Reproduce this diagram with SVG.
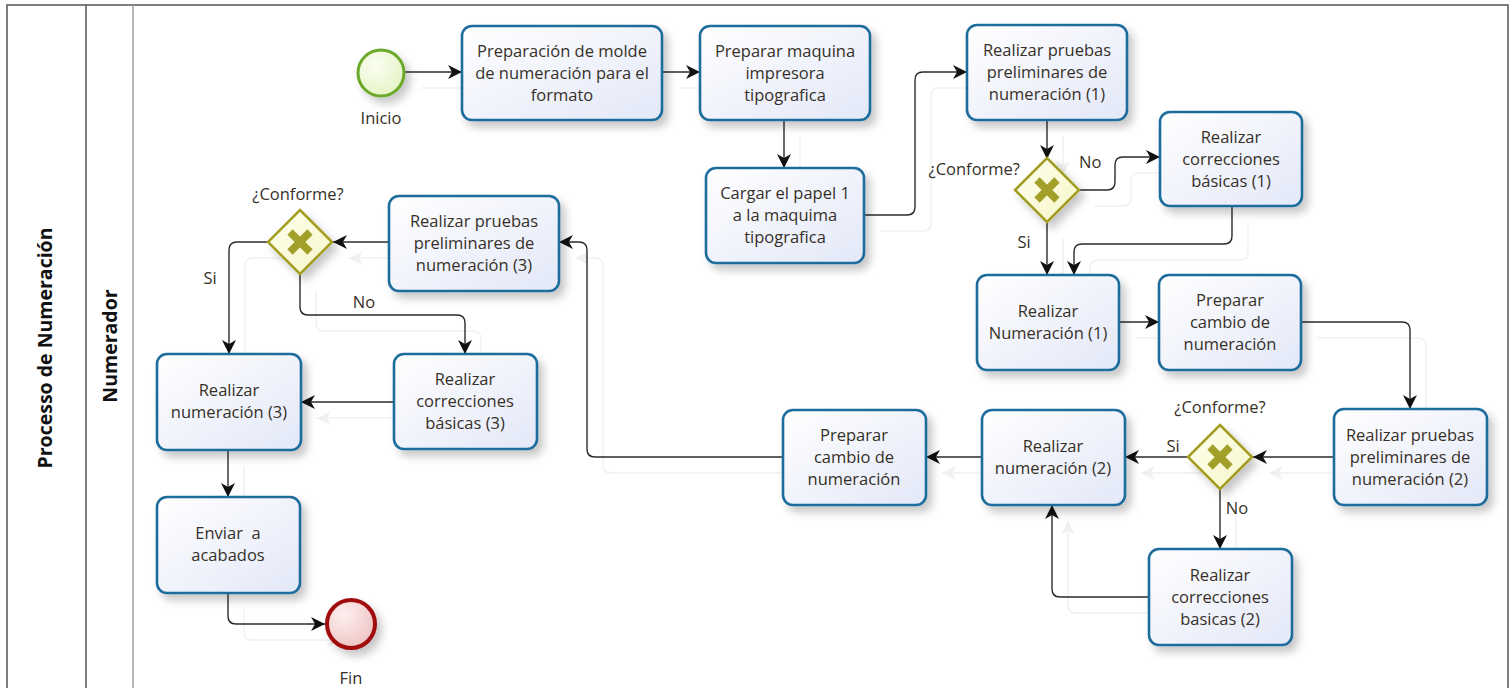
<svg xmlns="http://www.w3.org/2000/svg" xmlns:xlink="http://www.w3.org/1999/xlink" width="1512" height="688" viewBox="0 0 1512 688">
  <style>
    text { font-family: "Open Sans", "Noto Sans", "Liberation Sans", sans-serif; font-size: 16.5px; fill: #363028; }
    .t { text-anchor: middle; }
    .hdr { font-weight: bold; font-size: 19.5px; fill: #111; text-anchor: middle; }
    .task rect { fill: url(#taskFill); stroke: #1f6c9c; stroke-width: 2.6; filter: url(#shadow); }
    .gw .body { fill: url(#gwFill); stroke: #a29e22; stroke-width: 2.5; filter: url(#shadow); }
    .gw .x { stroke: #a3a02a; stroke-width: 7.5; stroke-linecap: butt; }
    .conn path { fill: none; stroke: #2b2b2b; stroke-width: 1.4; marker-end: url(#arrow); }
    .pool { fill: #fff; stroke: #5f5f5f; stroke-width: 1.6; }
  </style>
  <defs>
    <linearGradient id="taskFill" x1="0" y1="0" x2="1" y2="1">
      <stop offset="0" stop-color="#ffffff"/>
      <stop offset="1" stop-color="#e3e8f8"/>
    </linearGradient>
    <linearGradient id="gwFill" x1="0" y1="0" x2="1" y2="1">
      <stop offset="0" stop-color="#fffff0"/>
      <stop offset="1" stop-color="#f6f6c8"/>
    </linearGradient>
    <radialGradient id="startFill" cx="0.4" cy="0.35" r="0.7">
      <stop offset="0" stop-color="#fbfef2"/>
      <stop offset="1" stop-color="#e4f3c4"/>
    </radialGradient>
    <radialGradient id="endFill" cx="0.35" cy="0.3" r="0.75">
      <stop offset="0" stop-color="#fdf0f0"/>
      <stop offset="1" stop-color="#efc3c3"/>
    </radialGradient>
    <filter id="shadow" x="-20%" y="-20%" width="150%" height="150%">
      <feDropShadow dx="5" dy="6" stdDeviation="4" flood-color="#000" flood-opacity="0.22"/>
    </filter>
    <filter id="ghost" x="-5%" y="-5%" width="110%" height="110%">
      <feFlood flood-color="#f0f0f0"/>
      <feComposite in2="SourceAlpha" operator="in"/>
    </filter>
    <marker id="arrow" viewBox="0 0 12 12" refX="12" refY="6" markerWidth="14" markerHeight="14" markerUnits="userSpaceOnUse" orient="auto">
      <path d="M0,0 L12,6 L0,12 L3.5,6 Z" fill="#111"/>
    </marker>
  </defs>

  <!-- pool and lane -->
  <g id="pool">
    <rect class="pool" x="7" y="5" width="1501" height="700"/>
    <line x1="86" y1="5" x2="86" y2="705" stroke="#5f5f5f" stroke-width="1.6"/>
    <line x1="133" y1="5" x2="133" y2="705" stroke="#9a9a9a" stroke-width="1.4"/>
    <text class="hdr" transform="translate(52,348) rotate(-90)">Processo de Numeración</text>
    <text class="hdr" transform="translate(117,346) rotate(-90)">Numerador</text>
  </g>

  <!-- soft connector shadows -->
  <use xlink:href="#connectors" href="#connectors" transform="translate(16,16)" filter="url(#ghost)"/>

  <!-- sequence flows -->
  <g id="connectors" class="conn">
    <path d="M405,72 H462"/>
    <path d="M662,72 H700"/>
    <path d="M784,120 V168"/>
    <path d="M864,215 H907 Q915,215 915,207 V80 Q915,72 923,72 H967"/>
    <path d="M1047,120 V159"/>
    <path d="M1079,190 H1107 Q1115,190 1115,182 V165 Q1115,157 1123,157 H1160"/>
    <path d="M1047,222 V275"/>
    <path d="M1232,206 V236 Q1232,244 1224,244 H1082 Q1074,244 1074,252 V275"/>
    <path d="M1119,322 H1159"/>
    <path d="M1301,322 H1402 Q1410,322 1410,330 V409"/>
    <path d="M1334,457 H1253"/>
    <path d="M1188,457 H1125"/>
    <path d="M1220,489 V549"/>
    <path d="M1149,597 H1060 Q1052,597 1052,589 V505"/>
    <path d="M982,457 H926"/>
    <path d="M783,457 H595 Q587,457 587,449 V250 Q587,242 579,242 H559"/>
    <path d="M389,242 H333"/>
    <path d="M268,242 H237 Q229,242 229,250 V354"/>
    <path d="M300,275 V307 Q300,315 308,315 H457 Q465,315 465,323 V354"/>
    <path d="M394,402 H301"/>
    <path d="M228,450 V497"/>
    <path d="M228,593 V616 Q228,624 236,624 H325"/>
  </g>

  <!-- flow labels -->
  <g id="flow-labels">
    <text x="1079" y="168">No</text>
    <text class="t" x="1024" y="248">Si</text>
    <text class="t" x="1173" y="452">Si</text>
    <text class="t" x="1237" y="514">No</text>
    <text class="t" x="210" y="284">Si</text>
    <text class="t" x="364" y="308">No</text>
  </g>

  <!-- events -->
  <g id="start">
    <circle cx="381" cy="73" r="23" fill="url(#startFill)" stroke="#6aa92a" stroke-width="3" filter="url(#shadow)"/>
    <text class="t" x="381" y="124">Inicio</text>
  </g>
  <g id="end">
    <circle cx="351" cy="624" r="24" fill="url(#endFill)" stroke="#a10c0c" stroke-width="4" filter="url(#shadow)"/>
    <text class="t" x="351" y="684">Fin</text>
  </g>

  <!-- tasks -->
  <g id="t1" class="task">
    <rect x="462" y="26" width="200" height="94" rx="10"/>
    <text class="t" x="562" y="57">Preparación de molde</text>
    <text class="t" x="562" y="79">de numeración para el</text>
    <text class="t" x="562" y="101">formato</text>
  </g>
  <g id="t2" class="task">
    <rect x="700" y="26" width="170" height="94" rx="10"/>
    <text class="t" x="785" y="57">Preparar maquina</text>
    <text class="t" x="785" y="79">impresora</text>
    <text class="t" x="785" y="101">tipografica</text>
  </g>
  <g id="t3" class="task">
    <rect x="706" y="168" width="158" height="95" rx="10"/>
    <text class="t" x="785" y="199">Cargar el papel 1</text>
    <text class="t" x="785" y="221">a la maquima</text>
    <text class="t" x="785" y="243">tipografica</text>
  </g>
  <g id="t4" class="task">
    <rect x="967" y="25" width="160" height="95" rx="10"/>
    <text class="t" x="1047" y="56">Realizar pruebas</text>
    <text class="t" x="1047" y="78">preliminares de</text>
    <text class="t" x="1047" y="100">numeración (1)</text>
  </g>
  <g id="t5" class="task">
    <rect x="1160" y="112" width="142" height="94" rx="10"/>
    <text class="t" x="1231" y="143">Realizar</text>
    <text class="t" x="1231" y="165">correcciones</text>
    <text class="t" x="1231" y="187">básicas (1)</text>
  </g>
  <g id="t6" class="task">
    <rect x="977" y="275" width="142" height="95" rx="10"/>
    <text class="t" x="1048" y="317">Realizar</text>
    <text class="t" x="1048" y="339">Numeración (1)</text>
  </g>
  <g id="t7" class="task">
    <rect x="1159" y="275" width="142" height="95" rx="10"/>
    <text class="t" x="1230" y="306">Preparar</text>
    <text class="t" x="1230" y="328">cambio de</text>
    <text class="t" x="1230" y="350">numeración</text>
  </g>
  <g id="t8" class="task">
    <rect x="1334" y="409" width="153" height="96" rx="10"/>
    <text class="t" x="1410" y="441">Realizar pruebas</text>
    <text class="t" x="1410" y="463">preliminares de</text>
    <text class="t" x="1410" y="485">numeración (2)</text>
  </g>
  <g id="t9" class="task">
    <rect x="982" y="410" width="143" height="95" rx="10"/>
    <text class="t" x="1053" y="452">Realizar</text>
    <text class="t" x="1053" y="474">numeración (2)</text>
  </g>
  <g id="t10" class="task">
    <rect x="1149" y="549" width="143" height="96" rx="10"/>
    <text class="t" x="1220" y="581">Realizar</text>
    <text class="t" x="1220" y="603">correcciones</text>
    <text class="t" x="1220" y="625">basicas (2)</text>
  </g>
  <g id="t11" class="task">
    <rect x="783" y="410" width="143" height="95" rx="10"/>
    <text class="t" x="854" y="441">Preparar</text>
    <text class="t" x="854" y="463">cambio de</text>
    <text class="t" x="854" y="485">numeración</text>
  </g>
  <g id="t12" class="task">
    <rect x="389" y="196" width="170" height="95" rx="10"/>
    <text class="t" x="474" y="227">Realizar pruebas</text>
    <text class="t" x="474" y="249">preliminares de</text>
    <text class="t" x="474" y="271">numeración (3)</text>
  </g>
  <g id="t13" class="task">
    <rect x="394" y="354" width="143" height="95" rx="10"/>
    <text class="t" x="465" y="385">Realizar</text>
    <text class="t" x="465" y="407">correcciones</text>
    <text class="t" x="465" y="429">básicas (3)</text>
  </g>
  <g id="t14" class="task">
    <rect x="157" y="354" width="144" height="96" rx="10"/>
    <text class="t" x="229" y="396">Realizar</text>
    <text class="t" x="229" y="418">numeración (3)</text>
  </g>
  <g id="t15" class="task">
    <rect x="157" y="497" width="143" height="96" rx="10"/>
    <text class="t" x="228" y="539" xml:space="preserve">Enviar  a</text>
    <text class="t" x="228" y="561">acabados</text>
  </g>

  <!-- gateways -->
  <g id="g1" class="gw">
    <path class="body" d="M1047,158 L1079,190 L1047,222 L1015,190 Z"/>
    <path class="x" d="M1037,180 L1057,200 M1057,180 L1037,200"/>
    <text x="1020" y="175" text-anchor="end">¿Conforme?</text>
  </g>
  <g id="g2" class="gw">
    <path class="body" d="M1220,425 L1252,457 L1220,489 L1188,457 Z"/>
    <path class="x" d="M1210,447 L1230,467 M1230,447 L1210,467"/>
    <text class="t" x="1220" y="413">¿Conforme?</text>
  </g>
  <g id="g3" class="gw">
    <path class="body" d="M300,210 L332,242 L300,274 L268,242 Z"/>
    <path class="x" d="M290,232 L310,252 M310,232 L290,252"/>
    <text class="t" x="298" y="200">¿Conforme?</text>
  </g>
</svg>
